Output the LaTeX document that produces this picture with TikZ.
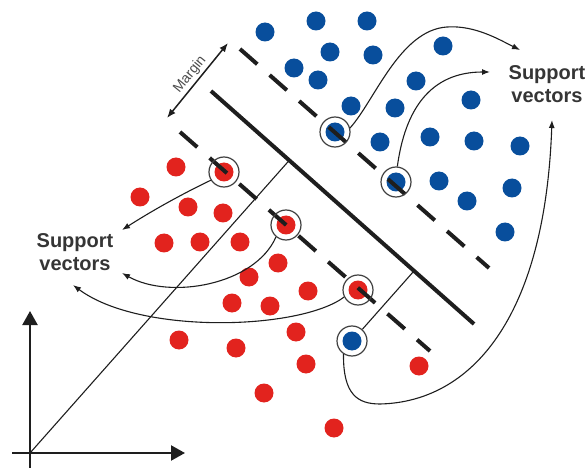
\documentclass[tikz,border=0pt]{standalone}
\usepackage{fontspec}
\setmainfont{Liberation Sans}
\usetikzlibrary{arrows.meta,calc}
\definecolor{dotred}{RGB}{226,35,30}
\definecolor{dotblue}{RGB}{8,78,156}
\definecolor{ink}{RGB}{30,30,30}
\begin{document}
\begin{tikzpicture}[x=1pt,y=-1pt,
  reddot/.style={circle,fill=dotred,inner sep=0pt,minimum size=19pt},
  bluedot/.style={circle,fill=dotblue,inner sep=0pt,minimum size=19pt},
  ring/.style={circle,draw=ink!85,line width=1.2pt,inner sep=0pt,minimum size=30pt},
  plane/.style={draw=ink,line width=4pt},
  marginline/.style={plane,dash pattern=on 23pt off 16.4pt},
  thinline/.style={draw=ink,line width=1.1pt},
  curvearrow/.style={thinline,-{Latex[length=8pt,width=6pt]}},
  axisline/.style={draw=ink,line width=2.2pt,-{Triangle[length=14pt,width=15pt]}},
  svlabel/.style={font=\bfseries\fontsize{20}{23}\selectfont,text=ink!90,align=center,inner sep=0pt}
]
\useasboundingbox (0,0) rectangle (587,468);

% blue points
\foreach \n/\p in {b1/{(265,32)},b2/{(316,21)},b3/{(367,21)},b4/{(330,52)},b5/{(373,55)},
  b6/{(443,46)},b7/{(294,68)},b8/{(318,80)},b9/{(416,81)},b10/{(351,106)},b11/{(395,108)},
  b12/{(471,100)},b13/{(380,142)},b14/{(430,137)},b15/{(474,141)},b16/{(520,146)},
  b17/{(439,181)},b18/{(467,201)},b19/{(512,188)},b20/{(505,232)},
  bs1/{(335,132)},bs2/{(396,182)},bs3/{(352,341)}}
  \node[bluedot] (\n) at \p {};

% red points
\foreach \n/\p in {r1/{(176,167)},r2/{(140,197)},r3/{(188,207)},r4/{(223,213)},r5/{(164,243)},
  r6/{(200,242)},r7/{(240,242)},r8/{(278,263)},r9/{(249,277)},r10/{(308,291)},r11/{(232,303)},
  r12/{(270,306)},r13/{(296,332)},r14/{(179,340)},r15/{(236,348)},r16/{(306,364)},
  r17/{(264,393)},r18/{(334,428)},r19/{(419,366)},
  rs1/{(224,172)},rs2/{(286,225)},rs3/{(358,290)}}
  \node[reddot] (\n) at \p {};

% hyperplane and margins
\coordinate (h1) at (211,91);
\coordinate (h2) at (474,324);
\coordinate (u1) at (240,49);
\coordinate (u2) at (489,268);
\coordinate (l1) at (180,132);
\coordinate (l2) at (430,351);
\draw[plane] (h1) -- (h2);
\draw[marginline] (u1) -- (u2);
\draw[marginline] (l1) -- (l2);

% support vector rings
\foreach \n in {bs1,bs2,bs3,rs1,rs2,rs3}
  \node[ring] (c\n) at (\n) {};

% margin arrow
\coordinate (ma1) at (167,118);
\coordinate (ma2) at (228,43);
\draw[draw=ink,line width=1.5pt,{Latex[length=9pt,width=7pt]}-{Latex[length=9pt,width=7pt]}] (ma1) -- (ma2);
\node[rotate=51,text=ink!80,font=\fontsize{14}{16}\selectfont,inner sep=0pt] (mlabel) at (190,74.5) {Margin};

% axes
\coordinate (o) at (30,453);
\coordinate (ybot) at (30,468);
\coordinate (ytip) at (30,311);
\coordinate (xleft) at (12,453);
\coordinate (xtip) at (185,453);
\draw[axisline] (ybot) -- (ytip);
\draw[axisline] (xleft) -- (xtip);

% perpendiculars to the hyperplane
\draw[thinline] (o) -- ($(h1)!(o)!(h2)$);
\draw[thinline] (cbs3) -- ($(h1)!(bs3)!(h2)$);

% labels
\node[svlabel] (lab1) at (75,252) {Support\\vectors};
\node[svlabel] (lab2) at (547,84) {Support\\vectors};

% arrow ends
\coordinate (tA) at (520,50);
\coordinate (tB) at (490,72);
\coordinate (tC) at (552,120);
\coordinate (tL1) at (122,230);
\coordinate (tL2) at (122,273);
\coordinate (tL3) at (73,285);

\draw[curvearrow] (cbs1.15) .. controls (375,100) and (400,30) .. (447,27)
  .. controls (475,25) and (500,40) .. (tA);
\draw[curvearrow] (cbs2.85) .. controls (405,110) and (430,72) .. (tB);
\draw[curvearrow] (cbs3.237) .. controls (343,395) and (358,404) .. (380,404)
  .. controls (470,402) and (545,320) .. (tC);
\draw[curvearrow] (crs1.212) .. controls (180,195) and (150,212) .. (tL1);
\draw[curvearrow] (crs2.230) .. controls (255,285) and (170,300) .. (tL2);
\draw[curvearrow] (crs3.207) .. controls (300,330) and (140,335) .. (tL3);
\end{tikzpicture}
\end{document}
